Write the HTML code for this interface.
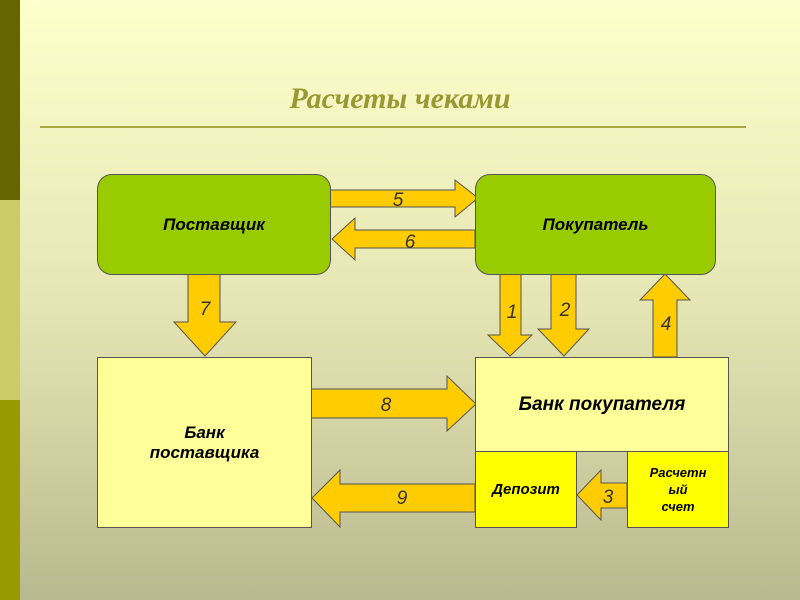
<!DOCTYPE html>
<html><head><meta charset="utf-8"><style>
body{margin:0;width:800px;height:600px;overflow:hidden;position:relative;background:linear-gradient(#ffffcc,#e6e6b4 50%,#b9b98f);font-family:"Liberation Sans",sans-serif}
.a{position:absolute}
.t{font-weight:bold;font-style:italic;color:#000;text-align:center;display:flex;align-items:center;justify-content:center;box-sizing:border-box;border:1px solid #555}
</style></head><body>
<div class="a" style="left:0;top:0;width:20px;height:200px;background:#666600"></div>
<div class="a" style="left:0;top:200px;width:20px;height:200px;background:#cccc66"></div>
<div class="a" style="left:0;top:400px;width:20px;height:200px;background:#999900"></div>
<div class="a" style="left:0;width:800px;top:82px;text-align:center;font:italic bold 30px 'Liberation Serif',serif;color:#999933">Расчеты чеками</div>
<div class="a" style="left:40px;top:126px;width:706px;height:2px;background:#a8a840"></div>
<svg class="a" style="left:0;top:0" width="800" height="600">
<g fill="#ffcc00" stroke="#555" stroke-width="1">
<polygon points="330,190 455,190 455,180 478,198 455,217 455,207 330,207"/>
<polygon points="475,230 355,230 355,218 332,239 355,260 355,248 475,248"/>
<polygon points="188,274 220,274 220,322 236,322 205,356 174,322 188,322"/>
<polygon points="500,274 521,274 521,335 532,335 510,356 488,335 500,335"/>
<polygon points="551,274 576,274 576,329 589,329 564,356 538,329 551,329"/>
<polygon points="653,357 677,357 677,300 690,300 665,274 640,300 653,300"/>
<polygon points="311,389 447,389 447,376 476,404 447,431 447,418 311,418"/>
<polygon points="475,484 340,484 340,470 312,498 340,527 340,512 475,512"/>
<polygon points="627,483 601,483 601,470 577,495 601,520 601,508 627,508"/>
</g>
<g font-family="Liberation Sans" font-style="italic" font-size="19" fill="#333" text-anchor="middle">
<text x="398" y="206">5</text><text x="410" y="248">6</text><text x="205" y="315">7</text>
<text x="512" y="318">1</text><text x="565" y="316">2</text><text x="666" y="330">4</text>
<text x="386" y="411">8</text><text x="402" y="504">9</text><text x="608" y="503">3</text>
</g></svg>
<div class="a t" style="left:97px;top:174px;width:234px;height:101px;background:#99cc00;border-radius:15px;font-size:17px">Поставщик</div>
<div class="a t" style="left:475px;top:174px;width:241px;height:101px;background:#99cc00;border-radius:15px;font-size:17px">Покупатель</div>
<div class="a t" style="left:97px;top:357px;width:215px;height:171px;background:#ffff99;font-size:17px;padding-top:0">Банк<br>поставщика</div>
<div class="a t" style="left:475px;top:357px;width:254px;height:95px;background:#ffff99;font-size:19px">Банк покупателя</div>
<div class="a t" style="left:475px;top:451px;width:102px;height:77px;background:#ffff00;font-size:15px">Депозит</div>
<div class="a t" style="left:627px;top:451px;width:102px;height:77px;background:#ffff00;font-size:13px;line-height:17px">Расчетн<br>ый<br>счет</div>
</body></html>
